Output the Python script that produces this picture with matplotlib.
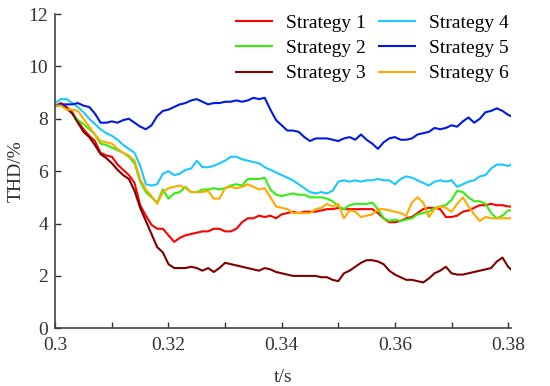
import numpy as np
from matplotlib import pyplot as plt

# Time axis (s), sampled every 1 ms, last point at the axis edge
t = [0.300 + 0.001 * i for i in range(81)] + [0.3805]

# THD (%)
s1 = [8.5, 8.6, 8.45, 8.25, 7.9, 7.6, 7.35, 7.15, 6.7, 6.6,
      6.55, 6.25, 6.05, 5.85, 5.55, 4.7, 4.3, 3.95, 3.8, 3.8,
      3.55, 3.3, 3.45, 3.55, 3.6, 3.65, 3.7, 3.7, 3.8, 3.8,
      3.7, 3.7, 3.8, 4.05, 4.2, 4.2, 4.3, 4.25, 4.3, 4.2,
      4.35, 4.4, 4.45, 4.4, 4.45, 4.45, 4.45, 4.5, 4.55, 4.55,
      4.6, 4.55, 4.55, 4.55, 4.55, 4.55, 4.55, 4.4, 4.2, 4.05,
      4.05, 4.1, 4.2, 4.25, 4.4, 4.55, 4.6, 4.6, 4.55, 4.25,
      4.25, 4.3, 4.45, 4.5, 4.6, 4.7, 4.7, 4.75, 4.7, 4.7,
      4.65, 4.65]
s2 = [8.5, 8.5, 8.4, 8.2, 7.95, 7.8, 7.6, 7.4, 7.05, 7.0,
      6.9, 6.8, 6.7, 6.55, 6.3, 5.6, 5.2, 5.0, 4.8, 5.3,
      4.95, 5.15, 5.2, 5.4, 5.2, 5.2, 5.3, 5.3, 5.35, 5.3,
      5.35, 5.45, 5.5, 5.45, 5.7, 5.7, 5.7, 5.75, 5.3, 5.1,
      5.05, 5.1, 5.15, 5.1, 5.1, 5.0, 5.0, 5.0, 4.95, 4.85,
      4.65, 4.55, 4.7, 4.75, 4.75, 4.75, 4.8, 4.55, 4.2, 4.1,
      4.15, 4.1, 4.15, 4.2, 4.35, 4.4, 4.45, 4.6, 4.65, 4.7,
      4.9, 5.25, 5.2, 5.0, 4.85, 4.85, 4.75, 4.4, 4.2, 4.3,
      4.5, 4.5]
s3 = [8.5, 8.55, 8.4, 8.2, 7.85, 7.5, 7.3, 7.0, 6.65, 6.5,
      6.3, 6.05, 5.85, 5.7, 5.25, 4.6, 4.1, 3.6, 3.1, 2.9,
      2.45, 2.3, 2.3, 2.3, 2.35, 2.3, 2.2, 2.3, 2.15, 2.3,
      2.5, 2.45, 2.4, 2.35, 2.3, 2.25, 2.2, 2.3, 2.25, 2.15,
      2.1, 2.05, 2.0, 2.0, 2.0, 2.0, 2.0, 1.95, 1.95, 1.85,
      1.8, 2.1, 2.2, 2.35, 2.5, 2.6, 2.6, 2.55, 2.45, 2.2,
      2.05, 1.95, 1.85, 1.85, 1.8, 1.75, 1.9, 2.1, 2.2, 2.35,
      2.1, 2.05, 2.05, 2.1, 2.15, 2.2, 2.25, 2.3, 2.55, 2.7,
      2.35, 2.25]
s4 = [8.6, 8.75, 8.75, 8.6, 8.45, 8.25, 8.0, 7.8, 7.6, 7.45,
      7.35, 7.2, 7.0, 6.85, 6.7, 6.2, 5.5, 5.45, 5.5, 5.9,
      6.0, 5.85, 5.9, 6.05, 6.1, 6.4, 6.15, 6.15, 6.2, 6.3,
      6.4, 6.55, 6.55, 6.45, 6.4, 6.35, 6.3, 6.15, 6.05, 5.95,
      5.85, 5.75, 5.65, 5.5, 5.35, 5.2, 5.15, 5.2, 5.15, 5.25,
      5.6, 5.65, 5.6, 5.65, 5.6, 5.65, 5.65, 5.7, 5.65, 5.65,
      5.5, 5.7, 5.8, 5.75, 5.65, 5.55, 5.45, 5.6, 5.65, 5.6,
      5.65, 5.4, 5.5, 5.6, 5.65, 5.8, 5.85, 6.1, 6.25, 6.25,
      6.2, 6.25]
s5 = [8.5, 8.55, 8.55, 8.55, 8.6, 8.5, 8.45, 8.2, 7.85, 7.85,
      7.9, 7.85, 7.95, 8.0, 7.85, 7.7, 7.6, 7.75, 8.1, 8.3,
      8.35, 8.45, 8.55, 8.6, 8.7, 8.75, 8.65, 8.55, 8.6, 8.6,
      8.65, 8.65, 8.7, 8.65, 8.7, 8.8, 8.75, 8.8, 8.35, 7.95,
      7.75, 7.55, 7.55, 7.5, 7.3, 7.15, 7.25, 7.25, 7.25, 7.2,
      7.15, 7.25, 7.3, 7.2, 7.4, 7.2, 7.05, 6.85, 7.1, 7.25,
      7.3, 7.2, 7.2, 7.25, 7.4, 7.45, 7.5, 7.65, 7.6, 7.65,
      7.75, 7.7, 7.9, 8.05, 7.85, 8.0, 8.25, 8.3, 8.4, 8.3,
      8.15, 8.1]
s6 = [8.5, 8.5, 8.35, 8.35, 8.3, 8.0, 7.7, 7.4, 7.15, 7.1,
      7.05, 6.85, 6.7, 6.6, 6.4, 5.7, 5.3, 5.05, 4.75, 5.2,
      5.35, 5.4, 5.45, 5.35, 5.2, 5.2, 5.2, 5.25, 4.95, 4.95,
      5.35, 5.4, 5.35, 5.4, 5.5, 5.4, 5.3, 5.35, 5.0, 4.65,
      4.6, 4.55, 4.4, 4.4, 4.4, 4.4, 4.55, 4.6, 4.75, 4.65,
      4.75, 4.2, 4.5, 4.45, 4.25, 4.3, 4.35, 4.55, 4.55, 4.5,
      4.45, 4.4, 4.3, 4.8, 5.0, 4.8, 4.25, 4.55, 4.65, 4.6,
      4.45, 4.75, 5.0, 4.65, 4.35, 4.1, 4.25, 4.2, 4.2, 4.2,
      4.2, 4.2]

labels = ["Strategy 1", "Strategy 2", "Strategy 3",
          "Strategy 4", "Strategy 5", "Strategy 6"]
series = [s1, s2, s3, s4, s5, s6]
colors = ["#ff0000", "#33ee11", "#800000", "#19c8ff", "#0019e6", "#ffaa00"]

plt.rcParams["font.family"] = ["Liberation Serif", "DejaVu Serif"]

fig = plt.figure(figsize=(5.5, 3.86), dpi=100)
ax = fig.add_axes([0.1005, 0.1495, 0.8285, 0.8142])

for y, c, lab in zip(series, colors, labels):
    ax.plot(t, y, color=c, lw=1.5, label=lab)

ax.set_xlim(0.3, 0.3805)
ax.set_ylim(0, 12)
ax.set_xticks(np.arange(0.30, 0.381, 0.01))
ax.set_xticklabels(["0.3", "", "0.32", "", "0.34", "", "0.36", "", "0.38"])
ax.set_yticks(range(0, 13, 2))
ax.tick_params(direction="in", length=4, width=1, labelsize=14, colors="#333333")
ax.tick_params(axis="x", pad=6)
ax.tick_params(axis="y", pad=5)
for side in ["top", "right"]:
    ax.spines[side].set_visible(False)
for side in ["left", "bottom"]:
    ax.spines[side].set_color("#444444")
    ax.spines[side].set_linewidth(1.2)

ax.set_xlabel("t/s", fontsize=14, color="#333333", labelpad=11)
ax.set_ylabel("THD/%", fontsize=14, color="#333333", labelpad=3)

ax.legend(loc="upper right", ncol=2, frameon=False, fontsize=14,
          handlelength=1.85, handletextpad=0.75, columnspacing=0.65,
          labelspacing=0.4, borderaxespad=0.0, bbox_to_anchor=(1.013, 1.025))

plt.savefig("out.png", dpi=100)
